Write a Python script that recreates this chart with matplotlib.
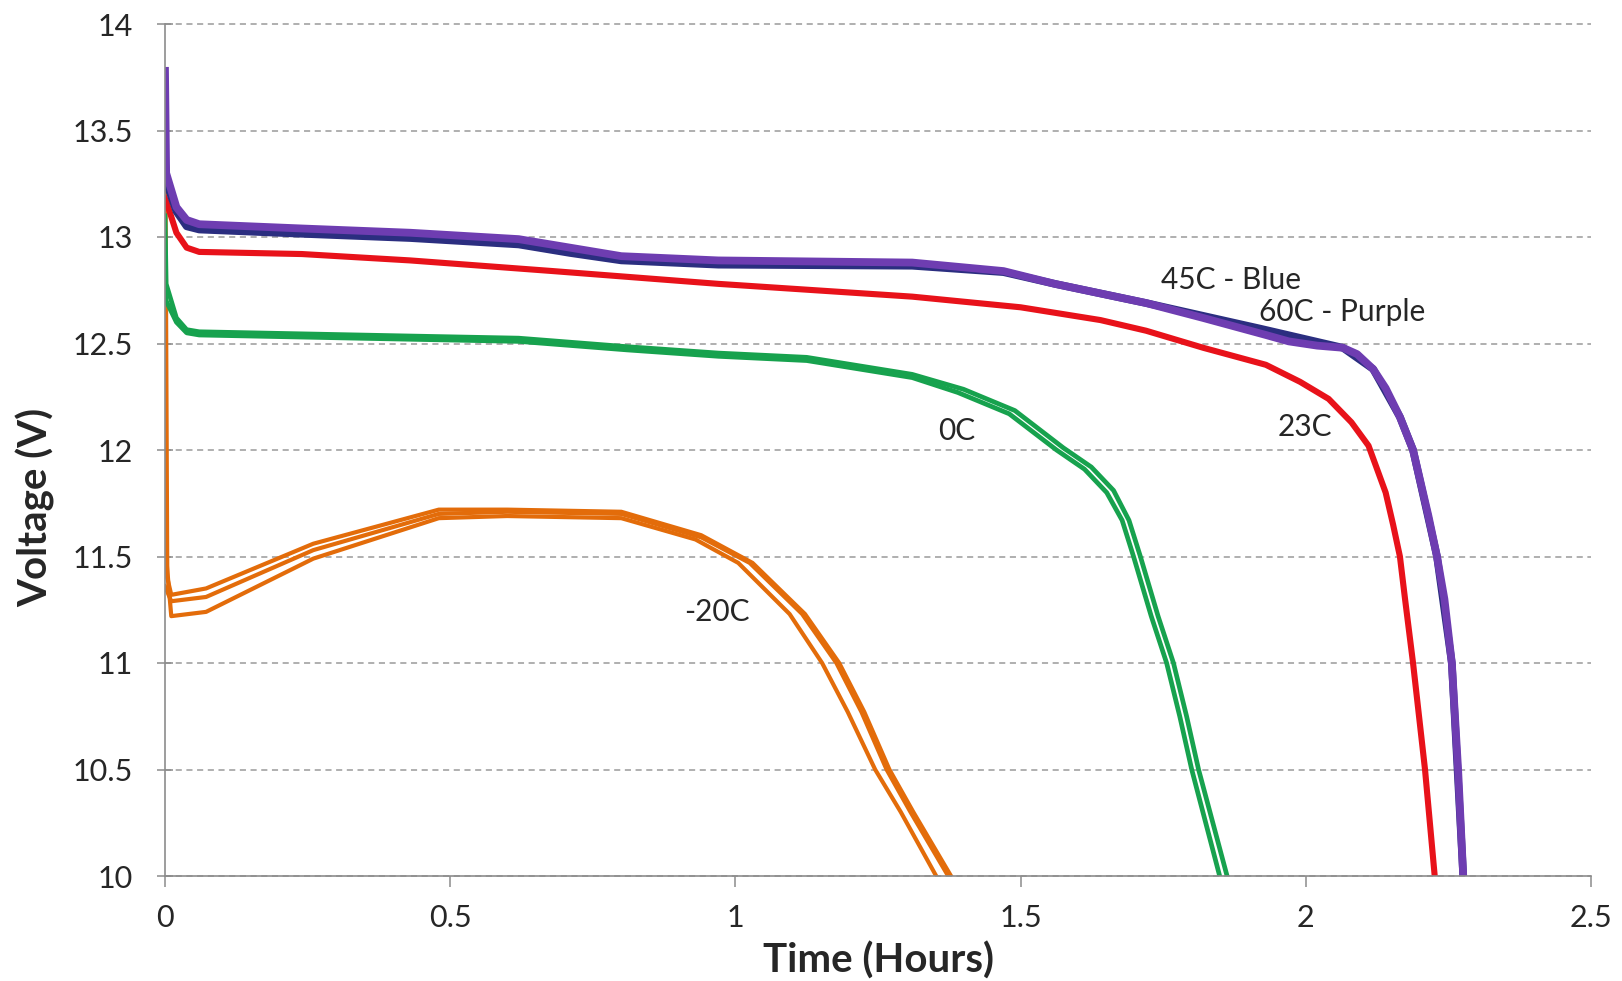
import matplotlib
matplotlib.use("Agg")
import matplotlib.pyplot as plt

plt.rcParams['font.family'] = ['Lato', 'DejaVu Sans']

# -20C, three cells
m20_t_a = [0, 0.004, 0.011, 0.072, 0.26, 0.48, 0.6, 0.8, 0.94, 1.03, 1.122, 1.182, 1.226, 1.27, 1.312, 1.378]
m20_v_a = [13.78, 11.4, 11.32, 11.35, 11.56, 11.72, 11.72, 11.71, 11.6, 11.47, 11.23, 11.0, 10.77, 10.5, 10.3, 10.0]
m20_t_b = [0, 0.011, 0.072, 0.26, 0.48, 0.6, 0.8, 0.94, 1.025, 1.117, 1.177, 1.221, 1.265, 1.307, 1.373]
m20_v_b = [11.36, 11.29, 11.31, 11.53, 11.70, 11.71, 11.70, 11.59, 11.47, 11.23, 11.0, 10.77, 10.5, 10.3, 10.0]
m20_t_c = [0, 0.011, 0.072, 0.26, 0.48, 0.6, 0.8, 0.93, 1.005, 1.095, 1.152, 1.197, 1.245, 1.29, 1.352]
m20_v_c = [11.56, 11.22, 11.24, 11.49, 11.68, 11.69, 11.68, 11.58, 11.47, 11.23, 11.0, 10.77, 10.5, 10.3, 10.0]

# 0C, two cells
c0_t_a = [0, 0.002, 0.02, 0.038, 0.06, 0.43, 0.62, 0.81, 0.97, 1.125, 1.31, 1.39, 1.48, 1.563, 1.612, 1.651, 1.678, 1.698, 1.729, 1.756, 1.779, 1.80, 1.849]
c0_v_a = [12.74, 12.70, 12.6, 12.55, 12.54, 12.52, 12.51, 12.47, 12.44, 12.42, 12.34, 12.27, 12.17, 12.0, 11.91, 11.8, 11.67, 11.5, 11.22, 11.0, 10.75, 10.5, 10.0]
c0_t_b = [0, 0.002, 0.02, 0.038, 0.06, 0.43, 0.62, 0.81, 0.97, 1.125, 1.31, 1.40, 1.49, 1.575, 1.624, 1.663, 1.69, 1.71, 1.741, 1.768, 1.791, 1.812, 1.862]
c0_v_b = [13.1, 12.78, 12.62, 12.565, 12.555, 12.535, 12.525, 12.485, 12.455, 12.435, 12.355, 12.285, 12.185, 12.01, 11.92, 11.81, 11.67, 11.5, 11.22, 11.0, 10.75, 10.5, 10.0]

# 23C
c23_t = [0, 0.002, 0.02, 0.038, 0.06, 0.24, 0.43, 0.68, 0.97, 1.31, 1.5, 1.64, 1.72, 1.82, 1.93, 1.99, 2.04, 2.08, 2.11, 2.14, 2.153, 2.165, 2.174, 2.188, 2.209, 2.226]
c23_v = [13.18, 13.17, 13.02, 12.95, 12.93, 12.92, 12.89, 12.84, 12.78, 12.72, 12.67, 12.61, 12.56, 12.48, 12.40, 12.32, 12.24, 12.13, 12.02, 11.8, 11.65, 11.5, 11.3, 11.0, 10.5, 10.0]

# 45C (blue)
c45_t = [0, 0.002, 0.02, 0.038, 0.06, 0.24, 0.43, 0.62, 0.71, 0.8, 0.97, 1.31, 1.47, 1.56, 1.72, 1.92, 2.065, 2.118, 2.165, 2.188, 2.23, 2.256, 2.276]
c45_v = [13.35, 13.26, 13.12, 13.05, 13.035, 13.015, 12.995, 12.965, 12.925, 12.89, 12.87, 12.865, 12.835, 12.78, 12.69, 12.57, 12.48, 12.38, 12.155, 12.0, 11.5, 11.0, 10.0]

# 60C (purple)
c60_t = [0, 0.002, 0.02, 0.038, 0.06, 0.24, 0.43, 0.62, 0.71, 0.8, 0.97, 1.31, 1.47, 1.56, 1.72, 1.82, 1.93, 1.97, 2.02, 2.065, 2.09, 2.118, 2.14, 2.165, 2.188, 2.215, 2.23, 2.243, 2.256, 2.267, 2.276]
c60_v = [13.78, 13.3, 13.14, 13.08, 13.06, 13.04, 13.02, 12.99, 12.95, 12.91, 12.89, 12.88, 12.84, 12.78, 12.69, 12.62, 12.54, 12.51, 12.49, 12.48, 12.45, 12.38, 12.29, 12.155, 12.0, 11.69, 11.5, 11.3, 11.0, 10.5, 10.0]

labels = ["45C - Blue", "60C - Purple", "23C", "0C", "-20C"]
label_t = [1.869, 2.063, 1.999, 1.388, 0.967]
label_v = [12.80, 12.65, 12.11, 12.09, 11.24]

orange = '#E36C0A'
green = '#17A24E'
red = '#E8121A'
navy = '#2B2E80'
purple = '#6E3DB1'

fig = plt.figure(figsize=(16.22, 9.81), dpi=100)
ax = fig.add_axes([165/1622, 1 - 876/981, 1426/1622, 852/981])

for t, v in [(m20_t_c, m20_v_c), (m20_t_b, m20_v_b), (m20_t_a, m20_v_a)]:
    ax.plot(t, v, color=orange, lw=3.0, solid_joinstyle='round')
for t, v in [(c0_t_a, c0_v_a), (c0_t_b, c0_v_b)]:
    ax.plot(t, v, color=green, lw=3.4, solid_joinstyle='round')
ax.plot(c23_t, c23_v, color=red, lw=4.4, solid_joinstyle='round')
ax.plot(c45_t, c45_v, color=navy, lw=5.5, solid_joinstyle='round')
ax.plot(c60_t, c60_v, color=purple, lw=5.6, solid_joinstyle='round')

for s, t, v in zip(labels, label_t, label_v):
    ax.text(t, v, s, fontsize=21.5, color='#262626', ha='center', va='center')

ax.set_xlim(0, 2.5)
ax.set_ylim(10, 14)
ax.set_xticks([0, 0.5, 1, 1.5, 2, 2.5])
ax.set_xticklabels(['0', '0.5', '1', '1.5', '2', '2.5'])
ax.set_yticks([10, 10.5, 11, 11.5, 12, 12.5, 13, 13.5, 14])
ax.set_yticklabels(['10', '10.5', '11', '11.5', '12', '12.5', '13', '13.5', '14'])

ax.yaxis.grid(True, linestyle=(0, (4, 3)), color='#9A9A9A', lw=1.1)
for gl in ax.get_ygridlines():
    gl.set_clip_on(False)
ax.set_axisbelow(True)

for side in ['top', 'right']:
    ax.spines[side].set_visible(False)
for side in ['left', 'bottom']:
    ax.spines[side].set_color('#8C8C8C')
    ax.spines[side].set_linewidth(1.2)

ax.tick_params(axis='y', direction='inout', length=12, width=1.1, color='#8C8C8C',
               labelsize=22, labelcolor='#262626', pad=17)
ax.tick_params(axis='x', direction='out', length=8, width=1.1, color='#8C8C8C',
               labelsize=22, labelcolor='#262626', pad=12)

ax.set_xlabel("Time (Hours)", fontsize=29, fontweight='bold', color='#262626', va='bottom')
ax.set_ylabel("Voltage (V)", fontsize=29, fontweight='bold', color='#262626')
# x label sits right on the lower edge of the figure
ax.xaxis.set_label_coords(0.5, -0.122)
ax.yaxis.set_label_coords(-0.077, 0.433)

fig.savefig("out.png", dpi=100)
